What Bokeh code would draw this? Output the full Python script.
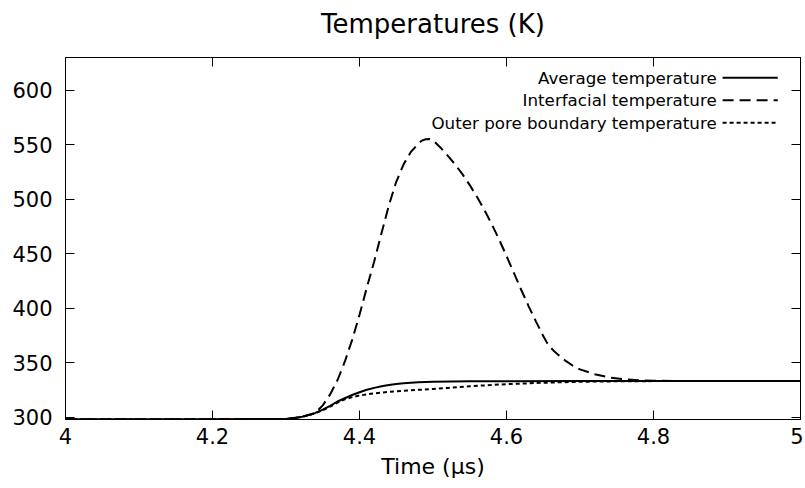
from bokeh.plotting import figure
from bokeh.models import Range1d, LinearAxis, FixedTicker, CustomJSTickFormatter
from bokeh.core.properties import value
from bokeh.embed import file_html
from bokeh.resources import INLINE

# ---- data ----
t_avg = [4.00, 4.10, 4.20, 4.30, 4.32, 4.33, 4.34, 4.35, 4.36, 4.37, 4.38, 4.39, 4.40,
         4.41, 4.42, 4.43, 4.44, 4.45, 4.46, 4.47, 4.48, 4.50, 4.55, 4.60, 4.70, 4.80, 4.90, 5.00]
T_avg = [298.3, 298.3, 298.3, 298.5, 300.2, 302.0, 304.0, 307.0, 310.5, 314.5, 317.5, 320.5, 323.0,
         325.3, 327.0, 328.5, 329.6, 330.6, 331.3, 331.8, 332.2, 332.6, 333.0, 333.1, 333.2, 333.3, 333.3, 333.3]

t_int = [4.00, 4.10, 4.20, 4.30, 4.32, 4.34, 4.35, 4.36, 4.37, 4.38, 4.39, 4.40, 4.41, 4.42,
         4.43, 4.44, 4.45, 4.46, 4.47, 4.48, 4.485, 4.49, 4.495, 4.50, 4.51, 4.52, 4.53, 4.54, 4.55, 4.56,
         4.57, 4.58, 4.59, 4.60, 4.61, 4.62, 4.63, 4.64, 4.65, 4.655, 4.66, 4.665, 4.67, 4.68, 4.69, 4.70, 4.72,
         4.74, 4.76, 4.78, 4.80, 4.85, 4.90, 5.00]
T_int = [298.3, 298.3, 298.3, 298.5, 300.0, 304.0, 311.0, 321.0, 334.0, 351.0, 371.0, 394.0, 419.0, 443.0,
         469.0, 494.5, 516.0, 532.0, 543.5, 551.0, 553.8, 555.0, 555.2, 554.0, 547.5, 540.0, 532.0, 523.0, 513.0, 502.0,
         490.0, 477.0, 463.0, 448.0, 432.5, 417.0, 402.0, 388.0, 374.5, 368.5, 364.0, 360.5, 357.5, 352.0, 347.5, 344.0, 339.5,
         336.5, 335.0, 334.0, 333.5, 333.2, 333.3, 333.3]

t_out = [4.00, 4.10, 4.20, 4.30, 4.32, 4.34, 4.35, 4.36, 4.37, 4.38, 4.39, 4.40, 4.42, 4.44,
         4.46, 4.48, 4.50, 4.52, 4.55, 4.60, 4.65, 4.70, 4.75, 4.80, 4.90, 5.00]
T_out = [298.3, 298.3, 298.3, 298.5, 300.0, 303.8, 306.5, 309.8, 313.5, 316.5, 318.5, 320.0, 322.0, 323.3,
         324.3, 325.2, 326.0, 327.0, 328.5, 330.4, 331.7, 332.6, 333.0, 333.2, 333.3, 333.3]

series_labels = ["Average temperature", "Interfacial temperature", "Outer pore boundary temperature"]
series_dash = ["solid", "11 6", "4 3"]

x_ticks = [4, 4.2, 4.4, 4.6, 4.8, 5]
x_tick_labels = ["4", "4.2", "4.4", "4.6", "4.8", "5"]
y_ticks = [300, 350, 400, 450, 500, 550, 600]

X0, X1 = 4.0, 5.0
Y0, Y1 = 298.0, 630.0

FONT = "DejaVu Sans"

p = figure(frame_width=735, frame_height=362,
           min_border_left=65, min_border_right=3, min_border_top=57, min_border_bottom=67,
           x_range=Range1d(X0, X1), y_range=Range1d(Y0, Y1),
           output_backend="svg", toolbar_location=None,
           x_axis_label="Time (μs)")
p.grid.visible = False
p.background_fill_color = "white"
p.border_fill_color = "white"
p.outline_line_color = "black"
p.outline_line_width = 1
p.outline_line_alpha = 1

p.title.text = "Temperatures (K)"
p.title.text_font = FONT
p.title.text_font_size = "26px"
p.title.text_font_style = "normal"
p.title.text_color = "#000000"
p.title.align = "center"
p.title.standoff = 0

def style_axis(ax):
    ax.major_tick_in = 9
    ax.major_tick_out = 0
    ax.minor_tick_line_color = None
    ax.axis_line_color = "black"
    ax.major_tick_line_color = "black"
    ax.major_label_text_font = FONT
    ax.major_label_text_font_size = "21px"
    ax.major_label_text_color = "#000000"
    ax.axis_label_text_font = FONT
    ax.axis_label_text_font_size = "22px"
    ax.axis_label_text_font_style = "normal"
    ax.axis_label_text_color = "#000000"

xax = p.xaxis[0]
xax.ticker = FixedTicker(ticks=x_ticks)
xax.major_label_overrides = {t: l for t, l in zip(x_ticks, x_tick_labels)}
style_axis(xax)
xax.major_label_standoff = 8
xax.axis_label_standoff = 7

yax = p.yaxis[0]
yax.ticker = FixedTicker(ticks=y_ticks)
style_axis(yax)
yax.major_label_standoff = 13

# mirrored top axis: ticks only; a blank axis label keeps the title clear of the frame
top = LinearAxis(ticker=FixedTicker(ticks=x_ticks), formatter=CustomJSTickFormatter(code="return ''"),
                 axis_label=" ")
style_axis(top)
top.major_label_standoff = 0
top.axis_label_text_font_size = "1px"
top.axis_label_standoff = 15
p.add_layout(top, "above")
right = LinearAxis(ticker=FixedTicker(ticks=y_ticks), formatter=CustomJSTickFormatter(code="return ''"))
style_axis(right)
right.major_label_standoff = 0
p.add_layout(right, "right")

lw = 2
p.line(t_avg, T_avg, line_color="black", line_width=lw)
p.line(t_int, T_int, line_color="black", line_width=lw, line_dash=series_dash[1])
p.line(t_out, T_out, line_color="black", line_width=lw, line_dash=series_dash[2])

# legend (text right-aligned, sample to the right), placed by range fractions
fx = lambda f: X0 + f * (X1 - X0)
fy = lambda f: Y0 + f * (Y1 - Y0)
text_x = fx(0.886)
s0, s1 = fx(0.894), fx(0.969)
rows = [fy(0.944), fy(0.882), fy(0.820)]
p.text(x=[text_x] * 3, y=rows, text=series_labels, text_align="right", text_baseline="middle",
       text_font=value(FONT), text_font_size="16.7px", text_color="#000000")
for yy, d in zip(rows, series_dash):
    p.line([s0, s1], [yy, yy], line_color="black", line_width=lw, line_dash=d)

open("out.html", "w").write(file_html(p, INLINE))
